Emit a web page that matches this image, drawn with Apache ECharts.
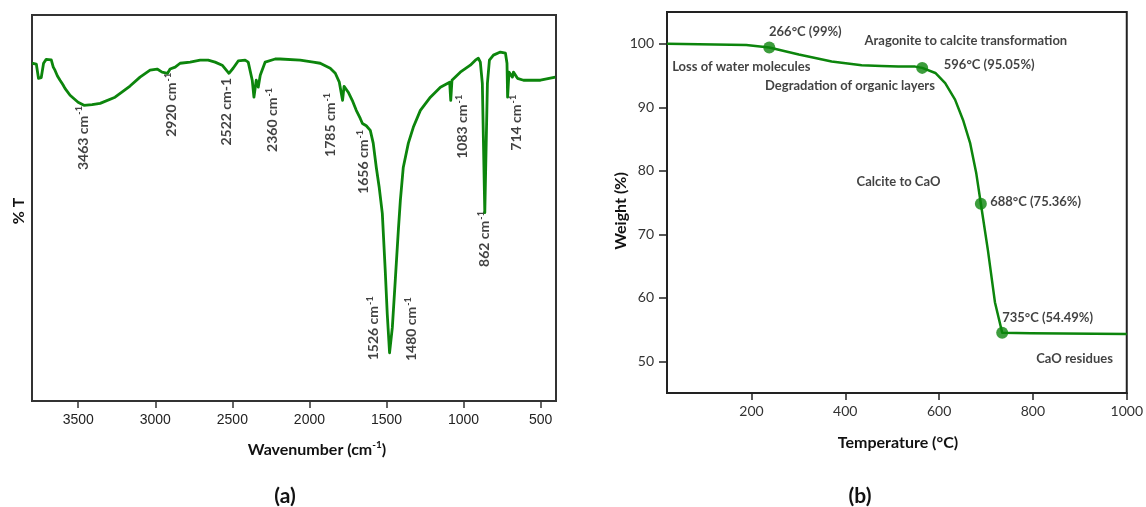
<!DOCTYPE html>
<html>
<head>
<meta charset="utf-8">
<script src="https://cdn.jsdelivr.net/npm/echarts@6/dist/echarts.min.js"></script>
<style>
  html, body { margin: 0; padding: 0; background: #fff; }
  #chart { width: 1146px; height: 507px; }
</style>
</head>
<body>
<div id="chart"></div>
<script>
// (a) FTIR spectrum
const ftirWavenumber = [3800, 3772, 3758, 3740, 3725, 3708, 3696, 3675, 3662, 3651, 3635, 3618, 3600, 3586, 3553, 3501, 3463, 3410, 3358, 3261, 3164, 3099, 3034, 2988, 2956, 2920, 2904, 2871, 2839, 2774, 2709, 2657, 2612, 2566, 2522, 2495, 2462, 2417, 2397, 2371, 2360, 2345, 2332, 2319, 2287, 2222, 2190, 2060, 1975, 1930, 1865, 1832, 1806, 1785, 1775, 1765, 1748, 1722, 1696, 1670, 1656, 1631, 1605, 1586, 1566, 1547, 1527, 1508, 1495, 1480, 1462, 1443, 1423, 1410, 1391, 1358, 1326, 1280, 1215, 1150, 1090, 1083, 1075, 1021, 956, 923, 904, 891, 878, 862, 845, 832, 806, 761, 728, 718, 714, 705, 683, 676, 650, 611, 501, 404];
const ftirTransmittance = [87.5, 87.3, 83.6, 83.8, 87.5, 88.5, 88.8, 88.4, 86.5, 85.7, 84.2, 83.1, 82.0, 81.0, 79.2, 77.4, 76.6, 76.8, 77.1, 78.7, 81.6, 83.9, 85.7, 86.0, 85.2, 84.9, 86.0, 86.5, 87.5, 87.8, 88.3, 88.3, 87.8, 87.0, 84.9, 86.2, 88.1, 88.3, 87.8, 83.1, 78.7, 83.1, 81.3, 84.4, 87.8, 88.6, 88.6, 88.3, 87.8, 87.5, 86.2, 84.9, 82.6, 77.9, 81.5, 81.8, 80.0, 77.9, 75.3, 73.2, 71.9, 71.3, 70.1, 66.8, 60.5, 55.3, 48.6, 33.8, 22.6, 12.5, 19.0, 31.2, 44.2, 51.9, 60.5, 66.8, 70.9, 75.3, 78.7, 81.3, 82.6, 77.9, 83.1, 85.2, 87.0, 88.3, 88.8, 87.8, 82.3, 48.8, 82.3, 88.3, 89.6, 90.4, 90.1, 87.5, 78.7, 85.2, 83.9, 85.2, 83.6, 83.1, 83.1, 83.9];
const ftirTicks = [3500, 3000, 2500, 2000, 1500, 1000, 500];

// peak labels: text, superscript, anchor (top end of rotated text)
const peakText = ['3463 cm', '2920 cm', '2522 cm-1', '2360 cm', '1785 cm', '1656 cm', '1526 cm', '1480 cm', '1083 cm', '862 cm', '714 cm'];
const peakSup = ['-1', '-1', '', '-1', '-1', '-1', '-1', '-1', '-1', '-1', '-1'];
const peakLabelX = [3469, 2897, 2540, 2241, 1865, 1650, 1586, 1339, 1008, 865, 657];
const peakLabelY = [76.4, 85.0, 83.7, 81.1, 79.8, 70.2, 27.1, 26.9, 79.3, 49.2, 79.3];

// (b) TGA curve
const tgaTemperature = [20, 189, 238, 301, 371, 435, 477, 513, 549, 564, 592, 613, 634, 651, 666, 679, 689, 704, 719, 734.5, 795, 1000];
const tgaWeight = [100, 99.8, 99.4, 98.3, 97.2, 96.6, 96.5, 96.4, 96.4, 96.2, 95.4, 93.8, 91.2, 88.0, 84.4, 79.7, 74.8, 67.5, 59.3, 54.5, 54.4, 54.3];
const dotTemperature = [238, 564, 689, 734.5];
const dotWeight = [99.4, 96.2, 74.8, 54.5];
const tgaXTicks = [200, 400, 600, 800, 1000];
const tgaYTicks = [50, 60, 70, 80, 90, 100];

// TGA annotations: text, anchor at left-middle of text
const noteText = ['266°C (99%)', 'Loss of water molecules', 'Degradation of organic layers', 'Aragonite to calcite transformation', '596°C (95.05%)', 'Calcite to CaO', '688°C (75.36%)', '735°C (54.49%)', 'CaO residues'];
const noteX = [237.5, 31, 229, 441, 610, 424, 709, 734.5, 807];
const noteY = [101.9, 96.4, 93.4, 100.4, 96.7, 78.3, 75.1, 56.8, 50.4];

const GREEN = '#0c850c';
const INK = '#111';
const CAL = 'Lato, "Open Sans", sans-serif';
const ARIAL = '"Liberation Sans", Arial, sans-serif';

const zip = (a, b) => a.map((v, i) => [v, b[i]]);
const plain = v => String(v);

const chart = echarts.init(document.getElementById('chart'));
chart.setOption({
  animation: false,
  backgroundColor: '#fff',
  grid: [
    { left: 32, top: 15, right: 590, bottom: 106, show: true, borderColor: '#333', borderWidth: 2, backgroundColor: 'transparent' },
    { left: 667, top: 12, right: 16, bottom: 114, show: true, borderColor: '#222', borderWidth: 2, backgroundColor: 'transparent' }
  ],
  xAxis: [
    {
      type: 'value', gridIndex: 0, min: 400, max: 3800, inverse: true,
      splitLine: { show: false },
      axisLine: { lineStyle: { color: '#333', width: 2 } },
      axisTick: { show: true, length: 7, lineStyle: { color: '#333', width: 1.5 }, customValues: ftirTicks },
      axisLabel: { customValues: ftirTicks, formatter: plain, margin: 12, fontFamily: ARIAL, fontSize: 14, color: '#222' }
    },
    {
      type: 'value', gridIndex: 1, min: 20, max: 1000,
      splitLine: { show: false },
      axisLine: { lineStyle: { color: '#222', width: 2 } },
      axisTick: { show: true, length: 7, lineStyle: { color: '#222', width: 1.5 }, customValues: tgaXTicks },
      axisLabel: { customValues: tgaXTicks, formatter: plain, margin: 11, fontFamily: CAL, fontSize: 14, color: '#333' }
    }
  ],
  yAxis: [
    {
      type: 'value', gridIndex: 0, min: 0, max: 100,
      splitLine: { show: false },
      axisLine: { show: true, lineStyle: { color: '#333', width: 2 } },
      axisTick: { show: false },
      axisLabel: { show: false }
    },
    {
      type: 'value', gridIndex: 1, min: 45, max: 105,
      splitLine: { show: false },
      axisLine: { show: true, lineStyle: { color: '#222', width: 2 } },
      axisTick: { show: true, length: 8, lineStyle: { color: '#222', width: 1.5 }, customValues: tgaYTicks },
      axisLabel: { customValues: tgaYTicks, formatter: plain, margin: 13, fontFamily: CAL, fontSize: 14, color: '#333' }
    }
  ],
  series: [
    {
      name: 'FTIR', type: 'line', xAxisIndex: 0, yAxisIndex: 0,
      data: zip(ftirWavenumber, ftirTransmittance),
      showSymbol: false, silent: true,
      lineStyle: { color: GREEN, width: 2.8, join: 'round' }
    },
    {
      name: 'peaks', type: 'scatter', xAxisIndex: 0, yAxisIndex: 0,
      data: zip(peakLabelX, peakLabelY),
      symbolSize: 1, silent: true,
      itemStyle: { color: 'rgba(0,0,0,0)' },
      label: {
        show: true, position: 'inside', rotate: 90, align: 'right', verticalAlign: 'middle',
        formatter: p => '{n|' + peakText[p.dataIndex] + '}' + (peakSup[p.dataIndex] ? '{s|' + peakSup[p.dataIndex] + '}' : ''),
        rich: {
          n: { fontFamily: CAL, fontSize: 14, fontWeight: 'bold', color: INK, lineHeight: 16 },
          s: { fontFamily: CAL, fontSize: 9, fontWeight: 'bold', color: INK, lineHeight: 16, verticalAlign: 'top', padding: [0, 0, 8, 1] }
        }
      }
    },
    {
      name: 'TGA', type: 'line', xAxisIndex: 1, yAxisIndex: 1,
      data: zip(tgaTemperature, tgaWeight),
      showSymbol: false, silent: true,
      lineStyle: { color: GREEN, width: 2.5, join: 'round' }
    },
    {
      name: 'steps', type: 'scatter', xAxisIndex: 1, yAxisIndex: 1,
      data: zip(dotTemperature, dotWeight),
      symbolSize: 12, silent: true,
      itemStyle: { color: GREEN }
    },
    {
      name: 'notes', type: 'scatter', xAxisIndex: 1, yAxisIndex: 1,
      data: zip(noteX, noteY),
      symbolSize: 1, silent: true,
      itemStyle: { color: 'rgba(0,0,0,0)' },
      label: {
        show: true, position: 'inside', align: 'left', verticalAlign: 'middle',
        formatter: p => noteText[p.dataIndex],
        fontFamily: CAL, fontSize: 13, fontWeight: 'bold', color: INK
      }
    }
  ],
  graphic: [
    { type: 'text', x: 19, y: 211, rotation: Math.PI / 2, silent: true,
      style: { text: '% T', fontFamily: CAL, fontSize: 16, fontWeight: 'bold', fill: INK, align: 'center', verticalAlign: 'middle' } },
    { type: 'text', x: 317, y: 450, silent: true,
      style: {
        text: '{n|Wavenumber (cm}{s|-1}{n|)}', align: 'center', verticalAlign: 'middle',
        rich: {
          n: { fontFamily: CAL, fontSize: 16, fontWeight: 'bold', fill: INK, lineHeight: 20 },
          s: { fontFamily: CAL, fontSize: 10, fontWeight: 'bold', fill: INK, lineHeight: 20, verticalAlign: 'top', padding: [0, 0, 10, 0] }
        }
      } },
    { type: 'text', x: 285, y: 496, silent: true,
      style: { text: '(a)', fontFamily: CAL, fontSize: 21, fontWeight: 'bold', fill: INK, align: 'center', verticalAlign: 'middle' } },
    { type: 'text', x: 621, y: 211, rotation: Math.PI / 2, silent: true,
      style: { text: 'Weight (%)', fontFamily: CAL, fontSize: 16, fontWeight: 'bold', fill: INK, align: 'center', verticalAlign: 'middle' } },
    { type: 'text', x: 898, y: 443, silent: true,
      style: { text: 'Temperature (°C)', fontFamily: CAL, fontSize: 16, fontWeight: 'bold', fill: INK, align: 'center', verticalAlign: 'middle' } },
    { type: 'text', x: 860, y: 496, silent: true,
      style: { text: '(b)', fontFamily: CAL, fontSize: 21, fontWeight: 'bold', fill: INK, align: 'center', verticalAlign: 'middle' } }
  ]
});
window.addEventListener('resize', function () {
  chart.resize();
});
</script>
</body>
</html>
